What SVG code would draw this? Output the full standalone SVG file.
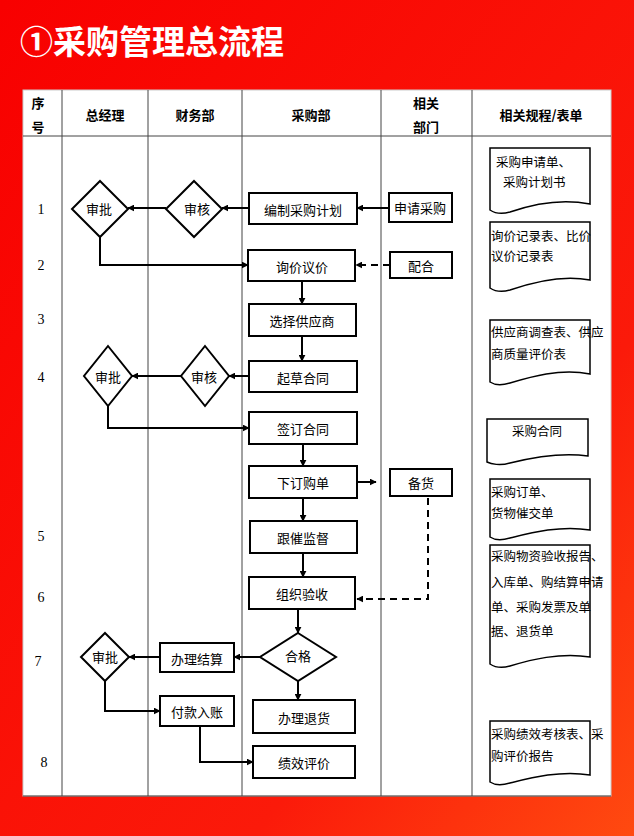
<svg xmlns="http://www.w3.org/2000/svg" width="634" height="836" viewBox="0 0 634 836">
<defs>
<linearGradient id="bg" x1="0" y1="0" x2="1" y2="1"><stop offset="0" stop-color="#f80000"/><stop offset="0.7" stop-color="#fb1a0a"/><stop offset="1" stop-color="#ff4a10"/></linearGradient>
<marker id="ah" viewBox="0 0 10 10" refX="9" refY="5" markerWidth="7" markerHeight="7" orient="auto" markerUnits="userSpaceOnUse"><path d="M0,0 L10,5 L0,10 z" fill="#000"/></marker>
</defs>
<style>
.t{font-family:"Noto Sans CJK SC","Liberation Sans",sans-serif;font-size:13px;fill:#000;text-anchor:middle;dominant-baseline:central}
.d{font-family:"Noto Sans CJK SC","Liberation Sans",sans-serif;font-size:12.5px;fill:#000}
.h{font-family:"Noto Sans CJK SC",sans-serif;font-size:13px;font-weight:bold;text-anchor:middle;dominant-baseline:central}
.n{font-family:"Liberation Serif",serif;font-size:14px;text-anchor:middle;dominant-baseline:central}
.b{fill:#fff;stroke:#000;stroke-width:2}
.g{fill:none;stroke:#444;stroke-width:1}
.c{fill:none;stroke:#000;stroke-width:2;marker-end:url(#ah)}
.cd{fill:none;stroke:#000;stroke-width:2;stroke-dasharray:7,5;marker-end:url(#ah)}
.doc{fill:#fff;stroke:#000;stroke-width:1.5}
</style>
<rect width="634" height="836" fill="url(#bg)"/>
<text x="20" y="54" font-family="Noto Sans CJK SC,sans-serif" font-size="33" font-weight="bold" fill="#fff">①采购管理总流程</text>
<rect x="23" y="90" width="588" height="706" fill="#fff" stroke="#ccc"/>
<g id="grid">
<path class="g" d="M23,136 H611 M62,90 V796 M148,90 V796 M242,90 V796 M381,90 V796 M472,90 V796 M23,796 H611"/>
<text class="h" x="38" y="102">序</text><text class="h" x="38" y="126">号</text>
<text class="h" x="105" y="114">总经理</text><text class="h" x="195" y="114">财务部</text><text class="h" x="311" y="114">采购部</text>
<text class="h" x="426" y="102">相关</text><text class="h" x="426" y="126">部门</text><text class="h" x="541" y="114">相关规程/表单</text>
<text class="n" x="41" y="209">1</text><text class="n" x="41" y="265">2</text><text class="n" x="41" y="319">3</text><text class="n" x="41" y="377">4</text><text class="n" x="41" y="536">5</text><text class="n" x="41" y="597">6</text><text class="n" x="38" y="661">7</text><text class="n" x="44" y="762">8</text>
</g>
<g id="connectors">
<path class="c" d="M389,208 H357"/>
<path class="c" d="M249,208 H222"/>
<path class="c" d="M166,208 H128"/>
<path class="c" d="M100,237 V265 H248"/>
<path class="cd" d="M390,265 H356"/>
<path class="c" d="M302,281 V304"/>
<path class="c" d="M302,336 V361"/>
<path class="c" d="M249,376 H229"/>
<path class="c" d="M181,376 H132"/>
<path class="c" d="M108,406 V428 H249"/>
<path class="c" d="M303,444 V466"/>
<path class="c" d="M357,482 H376"/>
<path class="c" d="M303,498 V521"/>
<path class="c" d="M303,553 V577"/>
<path class="cd" d="M428,498 V599 H357"/>
<path class="c" d="M298,609 V633"/>
<path class="c" d="M260,657 H234"/>
<path class="c" d="M160,657 H129"/>
<path class="c" d="M105,681 V711 H160"/>
<path class="c" d="M298,681 V700"/>
<path class="c" d="M200,726 V762 H253"/>
</g>
<g id="n1"><rect class="b" x="249" y="193" width="108" height="31"/><text class="t" x="303" y="209">编制采购计划</text></g>
<g id="n2"><rect class="b" x="389" y="193" width="63" height="29"/><text class="t" x="420" y="207">申请采购</text></g>
<g id="n3"><path class="b" d="M194,181 L222,209 L194,237 L166,209 z"/><text class="t" x="197" y="208">审核</text></g>
<g id="n4"><path class="b" d="M100,181 L128,209 L100,237 L72,209 z"/><text class="t" x="99" y="208">审批</text></g>
<g id="n5"><rect class="b" x="248" y="250" width="107" height="31"/><text class="t" x="302" y="266">询价议价</text></g>
<g id="n6"><rect class="b" x="390" y="252" width="62" height="26"/><text class="t" x="421" y="265">配合</text></g>
<g id="n7"><rect class="b" x="249" y="304" width="107" height="32"/><text class="t" x="302" y="320">选择供应商</text></g>
<g id="n8"><rect class="b" x="249" y="361" width="108" height="31"/><text class="t" x="303" y="377">起草合同</text></g>
<g id="n9"><path class="b" d="M205,346 L229,376 L205,406 L181,376 z"/><text class="t" x="204" y="376">审核</text></g>
<g id="n10"><path class="b" d="M108,346 L132,376 L108,406 L84,376 z"/><text class="t" x="108" y="376">审批</text></g>
<g id="n11"><rect class="b" x="249" y="412" width="108" height="32"/><text class="t" x="303" y="428">签订合同</text></g>
<g id="n12"><rect class="b" x="249" y="466" width="108" height="32"/><text class="t" x="303" y="482">下订购单</text></g>
<g id="n13"><rect class="b" x="390" y="469" width="62" height="27"/><text class="t" x="421" y="482">备货</text></g>
<g id="n14"><rect class="b" x="250" y="521" width="107" height="32"/><text class="t" x="303" y="537">跟催监督</text></g>
<g id="n15"><rect class="b" x="249" y="577" width="106" height="32"/><text class="t" x="302" y="593">组织验收</text></g>
<g id="n16"><path class="b" d="M298,633 L336,657 L298,681 L260,657 z"/><text class="t" x="298" y="655">合格</text></g>
<g id="n17"><rect class="b" x="160" y="643" width="74" height="29"/><text class="t" x="197" y="658">办理结算</text></g>
<g id="n18"><path class="b" d="M105,633 L129,657 L105,681 L81,657 z"/><text class="t" x="105" y="656">审批</text></g>
<g id="n19"><rect class="b" x="160" y="696" width="74" height="30"/><text class="t" x="197" y="711">付款入账</text></g>
<g id="n20"><rect class="b" x="253" y="700" width="102" height="33"/><text class="t" x="304" y="717">办理退货</text></g>
<g id="n21"><rect class="b" x="253" y="746" width="102" height="32"/><text class="t" x="304" y="762">绩效评价</text></g>
<g id="doc1"><path class="doc" d="M490,148 H590 V204 C560,198 530,205 510,212 C500,215 493,212 490,210 z"/><text class="d" x="496" y="167">采购申请单、</text><text class="d" x="503" y="187">采购计划书</text></g>
<g id="doc2"><path class="doc" d="M490,222 H590 V280 C560,274 530,283 510,290 C500,293 493,290 490,288 z"/><text class="d" x="491" y="241">询价记录表、比价</text><text class="d" x="491" y="261">议价记录表</text></g>
<g id="doc3"><path class="doc" d="M490,320 H590 V374 C560,368 530,377 510,383 C500,386 493,384 490,382 z"/><text class="d" x="491" y="337">供应商调查表、供应</text><text class="d" x="491" y="359">商质量评价表</text></g>
<g id="doc4"><path class="doc" d="M487,419 H588 V456 C560,452 530,458 510,463 C500,466 491,464 487,462 z"/><text class="d" x="537" y="436" text-anchor="middle">采购合同</text></g>
<g id="doc5"><path class="doc" d="M490,479 H590 V530 C560,525 530,533 510,538 C500,541 493,539 490,537 z"/><text class="d" x="491" y="497">采购订单、</text><text class="d" x="491" y="518">货物催交单</text></g>
<g id="doc6"><path class="doc" d="M490,545 H590 V657 C560,652 530,660 510,666 C500,669 493,666 490,664 z"/><text class="d" x="491" y="561">采购物资验收报告、</text><text class="d" x="491" y="587">入库单、购结算申请</text><text class="d" x="491" y="612">单、采购发票及单</text><text class="d" x="491" y="636">据、退货单</text></g>
<g id="doc7"><path class="doc" d="M490,721 H590 V775 C560,770 530,778 510,783 C500,786 493,784 490,782 z"/><text class="d" x="491" y="739">采购绩效考核表、采</text><text class="d" x="491" y="761">购评价报告</text></g>
</svg>
